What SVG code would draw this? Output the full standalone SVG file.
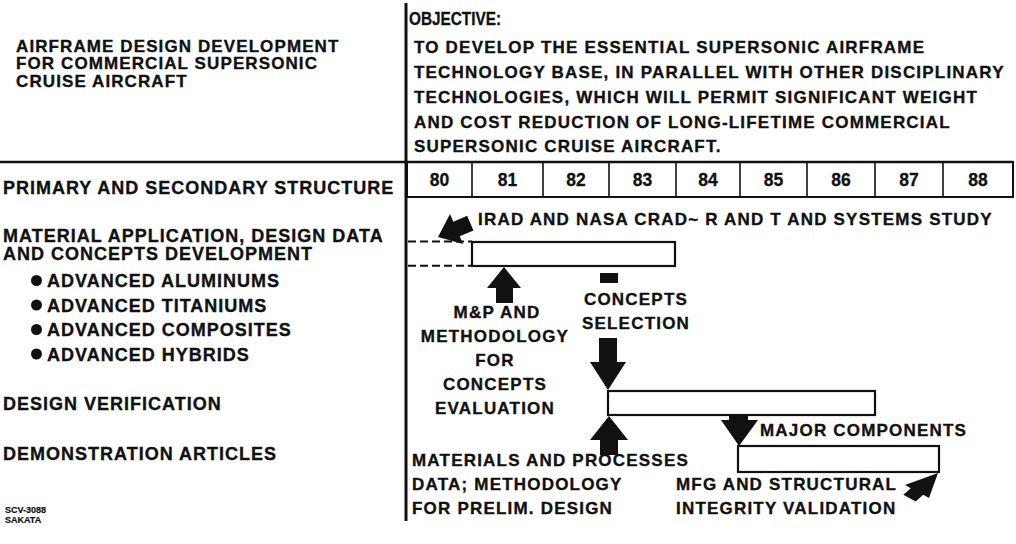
<svg xmlns="http://www.w3.org/2000/svg" width="1016" height="544" viewBox="0 0 1016 544">
<style>
.t{font-family:"Liberation Sans",Arial,sans-serif;font-weight:bold;font-size:17px;letter-spacing:1.2px;fill:#111;stroke:#111;stroke-width:0.35}
.h{font-size:17px;letter-spacing:1.1px}
.l{font-size:18px;letter-spacing:1px}
.c{font-family:"Liberation Sans",Arial,sans-serif;font-weight:bold;font-size:17.5px;fill:#111;stroke:#111;stroke-width:0.3}
.s{font-family:"Liberation Sans",Arial,sans-serif;font-weight:bold;font-size:9px;fill:#111;stroke:#111;stroke-width:0.2}
.m{text-anchor:middle}
.ln{stroke:#111;fill:none}
.bar{fill:#fff;stroke:#111;stroke-width:2.2}
.ar{fill:#111;stroke:none}
</style>
<rect width="1016" height="544" fill="#fff"/>

<g id="frame">
<line class="ln" x1="406" y1="3" x2="406" y2="521" stroke-width="3"/>
<line class="ln" x1="0" y1="162" x2="1013" y2="162" stroke-width="2.5"/>
</g>

<g id="title">
<text class="t h" x="16" y="52">AIRFRAME DESIGN DEVELOPMENT</text>
<text class="t h" x="16" y="69">FOR COMMERCIAL SUPERSONIC</text>
<text class="t h" x="16" y="87">CRUISE AIRCRAFT</text>
</g>

<g id="objective">
<text class="c" x="409" y="25" font-size="15.5" textLength="92" lengthAdjust="spacingAndGlyphs">OBJECTIVE:</text>
<text class="t" x="414" y="53">TO DEVELOP THE ESSENTIAL SUPERSONIC AIRFRAME</text>
<text class="t" x="414" y="78">TECHNOLOGY BASE, IN PARALLEL WITH OTHER DISCIPLINARY</text>
<text class="t" x="414" y="103">TECHNOLOGIES, WHICH WILL PERMIT SIGNIFICANT WEIGHT</text>
<text class="t" x="414" y="128">AND COST REDUCTION OF LONG-LIFETIME COMMERCIAL</text>
<text class="t" x="414" y="152">SUPERSONIC CRUISE AIRCRAFT.</text>
</g>

<g id="years">
<rect class="ln" x="407" y="162" width="606" height="35" stroke-width="2"/>
<g class="ln" stroke-width="1.6">
<line x1="472" y1="162" x2="472" y2="197"/>
<line x1="543" y1="162" x2="543" y2="197"/>
<line x1="609" y1="162" x2="609" y2="197"/>
<line x1="676" y1="162" x2="676" y2="197"/>
<line x1="740" y1="162" x2="740" y2="197"/>
<line x1="807" y1="162" x2="807" y2="197"/>
<line x1="875" y1="162" x2="875" y2="197"/>
<line x1="943" y1="162" x2="943" y2="197"/>
</g>
<text class="c m" x="439.5" y="186">80</text>
<text class="c m" x="507.5" y="186">81</text>
<text class="c m" x="576" y="186">82</text>
<text class="c m" x="642.5" y="186">83</text>
<text class="c m" x="708" y="186">84</text>
<text class="c m" x="773.5" y="186">85</text>
<text class="c m" x="841" y="186">86</text>
<text class="c m" x="909" y="186">87</text>
<text class="c m" x="978" y="186">88</text>
</g>

<g id="row-labels">
<text class="t l" x="3" y="194">PRIMARY AND SECONDARY STRUCTURE</text>
<text class="t l" x="3" y="242">MATERIAL APPLICATION, DESIGN DATA</text>
<text class="t l" x="3" y="260">AND CONCEPTS DEVELOPMENT</text>
<g fill="#111">
<circle cx="36.5" cy="280.5" r="5.5"/>
<circle cx="36.5" cy="305" r="5.5"/>
<circle cx="36.5" cy="329.5" r="5.5"/>
<circle cx="36.5" cy="354" r="5.5"/>
</g>
<text class="t l" x="47" y="287">ADVANCED ALUMINUMS</text>
<text class="t l" x="47" y="311.5">ADVANCED TITANIUMS</text>
<text class="t l" x="47" y="336">ADVANCED COMPOSITES</text>
<text class="t l" x="47" y="360.5">ADVANCED HYBRIDS</text>
<text class="t l" x="3" y="410">DESIGN VERIFICATION</text>
<text class="t l" x="3" y="460">DEMONSTRATION ARTICLES</text>
<text class="s" x="5" y="513">SCV-3088</text>
<text class="s" x="5" y="523">SAKATA</text>
</g>

<g id="node-concepts">
<rect class="bar" x="472" y="242" width="203" height="24"/>
<text class="t" x="478" y="225">IRAD AND NASA CRAD~ R AND T AND SYSTEMS STUDY</text>
<text class="t m" x="497" y="318">M&amp;P AND</text>
<text class="t m" x="495" y="342">METHODOLOGY</text>
<text class="t m" x="495" y="366">FOR</text>
<text class="t m" x="495" y="390">CONCEPTS</text>
<text class="t m" x="495" y="414">EVALUATION</text>
<text class="t m" x="636" y="305">CONCEPTS</text>
<text class="t m" x="636" y="329">SELECTION</text>
</g>

<g id="node-verification">
<rect class="bar" x="608" y="391" width="267" height="24"/>
<text class="t" x="412" y="466">MATERIALS AND PROCESSES</text>
<text class="t" x="412" y="490">DATA; METHODOLOGY</text>
<text class="t" x="412" y="514">FOR PRELIM. DESIGN</text>
</g>

<g id="node-demonstration">
<rect class="bar" x="738" y="446" width="201" height="26"/>
<text class="t" x="760" y="436">MAJOR COMPONENTS</text>
<text class="t" x="676" y="490">MFG AND STRUCTURAL</text>
<text class="t" x="676" y="514">INTEGRITY VALIDATION</text>
</g>

<g id="connectors">
<g class="ln" stroke-width="2" stroke-dasharray="8 4">
<line x1="408" y1="241.5" x2="472" y2="241.5"/>
<line x1="408" y1="265.7" x2="472" y2="265.7"/>
</g>
<polygon class="ar" points="438,237 450,214 453.3,221.7 467.1,215.8 473.5,230.4 459.7,236.3 463,244"/>
<polygon class="ar" points="504,267 521,288 513,288 513,303 496,303 496,288 487,288"/>
<rect class="ar" x="600" y="273" width="18" height="10"/>
<polygon class="ar" points="599,338 617,338 617,362 626,362 608,390 590,362 599,362"/>
<polygon class="ar" points="609,416 628,440 618,440 618,455 600,455 600,440 590,440"/>
<polygon class="ar" points="729,415 748,415 748,420 758,420 739,446 721,420 729,420"/>
<polygon class="ar" points="938,473 929,498 923.2,494.8 915.7,501.4 903.3,494.8 910.8,488.2 905,485"/>
</g>
</svg>
